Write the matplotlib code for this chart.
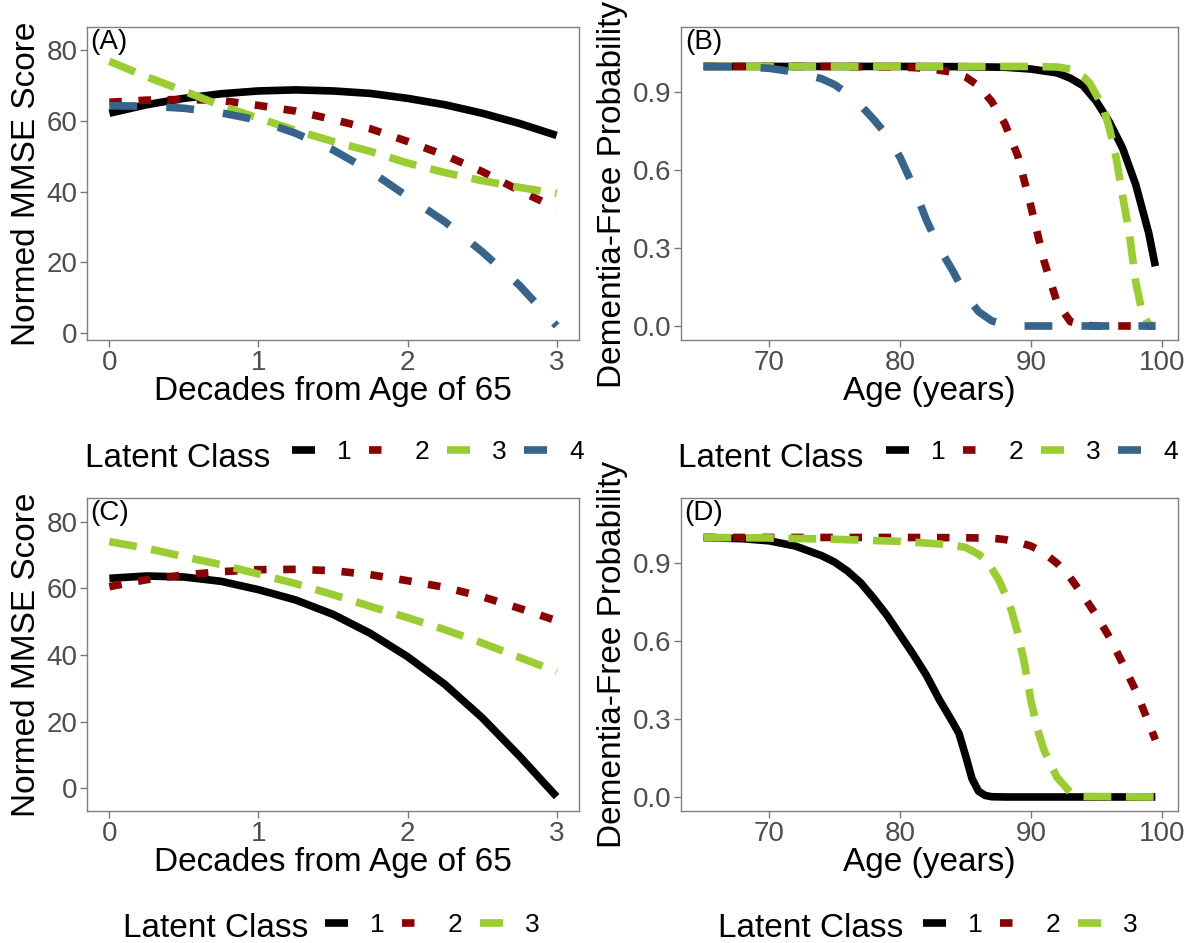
import matplotlib.pyplot as plt

plt.rcParams['font.family'] = ['Liberation Sans', 'DejaVu Sans']
plt.rcParams['lines.scale_dashes'] = False

# MMSE trajectories (decades from age 65)
decades = [0, 0.25, 0.5, 0.75, 1.0, 1.25, 1.5, 1.75, 2.0, 2.25, 2.5, 2.75, 3.0]
a_class1 = [62.2, 64.6, 66.4, 67.7, 68.5, 68.8, 68.5, 67.8, 66.4, 64.6, 62.2, 59.3, 55.9]
a_class2 = [65.3, 65.9, 66.1, 65.8, 64.4, 62.8, 60.4, 57.8, 54.2, 50.3, 45.7, 40.3, 35.3]
a_class3 = [76.9, 72.5, 68.5, 64.3, 60.8, 57.3, 54.2, 51.4, 48.1, 45.4, 43.1, 41.2, 39.5]
a_class4 = [64.3, 64.2, 63.6, 62.3, 60.2, 56.5, 51.8, 45.8, 38.6, 31.5, 23.0, 13.5, 2.0]

c_class1 = [63.0, 63.7, 63.4, 62.1, 59.6, 56.5, 52.2, 46.5, 39.5, 31.2, 21.2, 9.7, -2.5]
c_class2 = [60.5, 62.6, 64.0, 65.0, 65.6, 65.7, 65.3, 64.1, 62.3, 60.3, 57.5, 54.0, 50.3]
c_class3 = [74.0, 72.0, 69.5, 67.1, 64.3, 61.4, 58.1, 54.6, 51.2, 47.6, 43.6, 39.3, 35.0]

# dementia-free probability by age
b_age1 = [65, 70, 75, 80, 85, 88, 90, 92, 93, 94, 95, 96, 97, 98, 99, 99.5]
b_prob1 = [1, 1, 1, 1, 0.999, 0.997, 0.99, 0.975, 0.955, 0.925, 0.865, 0.785, 0.685, 0.545, 0.357, 0.23]
b_age2 = [65, 75, 80, 82, 84, 85, 86, 87, 88, 89, 90, 91, 92, 93, 94, 95, 99.5]
b_prob2 = [1, 1, 0.998, 0.993, 0.978, 0.96, 0.925, 0.865, 0.78, 0.655, 0.46, 0.25, 0.09, 0.017, 0.003, 0, 0]
b_age3 = [65, 80, 90, 92, 93, 94, 94.5, 95, 95.5, 96, 96.5, 97, 97.5, 98, 98.5, 99, 99.5]
b_prob3 = [1, 1, 1, 0.998, 0.99, 0.96, 0.935, 0.89, 0.845, 0.76, 0.65, 0.5, 0.36, 0.17, 0.05, 0.005, 0]
b_age4 = [65, 68, 70, 72, 74, 75, 76, 77, 78, 79, 80, 81, 82, 83, 84, 85, 86, 87, 88, 89, 99.5]
b_prob4 = [1, 0.998, 0.993, 0.978, 0.953, 0.93, 0.895, 0.85, 0.795, 0.735, 0.65, 0.54, 0.41, 0.3, 0.215,
           0.12, 0.055, 0.02, 0.005, 0, 0]

d_age1 = [65, 68, 70, 72, 74, 75, 76, 77, 78, 79, 80, 81, 82, 83, 84, 84.5, 85, 85.5, 86, 86.5, 87, 88, 99.5]
d_prob1 = [1, 0.995, 0.987, 0.967, 0.93, 0.905, 0.87, 0.825, 0.765, 0.70, 0.625, 0.55, 0.47, 0.375, 0.29,
           0.245, 0.16, 0.07, 0.022, 0.006, 0.001, 0, 0]
d_age2 = [65, 80, 85, 87, 88, 89, 90, 91, 92, 93, 94, 95, 96, 97, 98, 99, 99.5]
d_prob2 = [1, 1, 0.999, 0.997, 0.992, 0.982, 0.967, 0.94, 0.9, 0.845, 0.775, 0.7, 0.615, 0.515, 0.41, 0.285, 0.22]
d_age3 = [65, 70, 75, 80, 83, 84, 85, 86, 86.5, 87, 87.5, 88, 88.5, 89, 89.5, 90, 90.5, 91, 91.5, 92, 93, 94, 99.5]
d_prob3 = [1, 0.998, 0.993, 0.985, 0.975, 0.97, 0.962, 0.935, 0.915, 0.88, 0.84, 0.785, 0.72, 0.63, 0.515,
           0.37, 0.26, 0.18, 0.125, 0.075, 0.018, 0.002, 0]

class_labels = ['1', '2', '3', '4']
colours = ['black', '#8B0000', '#9ACD32', '#36648B']
dash_list = [None, (9, 12), (20, 10.5), (20, 21)]

W, H = 1191, 943
fig = plt.figure(figsize=(W / 100, H / 100), dpi=100)


def px_box(left, top, right, bottom):
    return [left / W, 1 - bottom / H, (right - left) / W, (bottom - top) / H]


def panel(box, series, xlim, ylim, xticks, yticks, xlabel, ylabel, tag, tag_xy, tick_fmt=None):
    ax = fig.add_axes(px_box(*box))
    lines = []
    for i, (x, y) in enumerate(series):
        ln, = ax.plot(x, y, color=colours[i], lw=5.5, solid_capstyle='butt')
        if dash_list[i] is not None:
            ln.set_dashes(dash_list[i])
            ln.set_dash_capstyle('butt')
        lines.append(ln)
    ax.set_xlim(xlim)
    ax.set_ylim(ylim)
    ax.set_xticks(xticks)
    ax.set_yticks(yticks)
    if tick_fmt:
        ax.set_yticklabels([tick_fmt.format(v) for v in yticks])
    ax.tick_params(labelsize=20, labelcolor='#4D4D4D', color='#777777', length=5, width=1, pad=2)
    for s in ax.spines.values():
        s.set_color('#808080')
        s.set_linewidth(1.0)
    ax.set_xlabel(xlabel, fontsize=24, labelpad=0)
    ax.set_ylabel(ylabel, fontsize=24, labelpad=3)
    ax.text(tag_xy[0], tag_xy[1], tag, fontsize=20, ha='center', va='center')
    return ax, lines


def legend(ax, lines, n, title_x, key_x, key_y, base_y):
    fig.text(title_x / W, 1 - base_y / H, 'Latent Class', fontsize=24, va='baseline', ha='left')
    ax.legend(lines, class_labels[:n], loc='center left', bbox_to_anchor=(key_x / W, 1 - key_y / H),
              bbox_transform=fig.transFigure, frameon=False, ncol=n, fontsize=19,
              handlelength=0.87, handletextpad=0.83, columnspacing=0.68, borderpad=0, borderaxespad=0)


axA, lA = panel((87, 27, 579, 340),
                [(decades, a_class1), (decades, a_class2), (decades, a_class3), (decades, a_class4)],
                (-0.15, 3.15), (-2.0, 86.6), [0, 1, 2, 3], [0, 20, 40, 60, 80],
                'Decades from Age of 65', 'Normed MMSE Score', '(A)', (0, 82.4))
axB, lB = panel((681, 27, 1178, 340),
                [(b_age1, b_prob1), (b_age2, b_prob2), (b_age3, b_prob3), (b_age4, b_prob4)],
                (63.27, 101.23), (-0.054, 1.152), [70, 80, 90, 100], [0, 0.3, 0.6, 0.9],
                'Age (years)', 'Dementia-Free Probability', '(B)', (65, 1.095), '{:.1f}')
axB.yaxis.label.set_y(0.465)
axC, lC = panel((87, 498, 579, 811),
                [(decades, c_class1), (decades, c_class2), (decades, c_class3)],
                (-0.15, 3.15), (-6.8, 87.1), [0, 1, 2, 3], [0, 20, 40, 60, 80],
                'Decades from Age of 65', 'Normed MMSE Score', '(C)', (0, 82.6))
axD, lD = panel((681, 498, 1178, 811),
                [(d_age1, d_prob1), (d_age2, d_prob2), (d_age3, d_prob3)],
                (63.27, 101.23), (-0.054, 1.152), [70, 80, 90, 100], [0, 0.3, 0.6, 0.9],
                'Age (years)', 'Dementia-Free Probability', '(D)', (65, 1.095), '{:.1f}')

legend(axA, lA, 4, 85, 292, 452, 467)
legend(axB, lB, 4, 678, 886, 452, 467)
legend(axC, lC, 3, 123, 325, 925, 937)
legend(axD, lD, 3, 718, 923, 925, 937)

fig.savefig('out.png', dpi=100)
